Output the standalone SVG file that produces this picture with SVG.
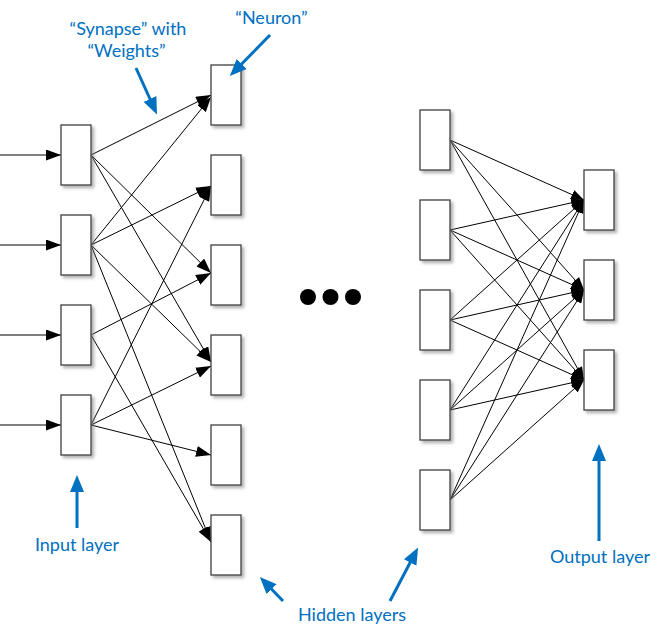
<svg xmlns="http://www.w3.org/2000/svg" width="662" height="639" viewBox="0 0 662 639">
  <style>
    .node rect { fill: #ffffff; stroke: #404040; stroke-width: 1.3; filter: url(#shadow); }
    .conn line { stroke: #000000; stroke-width: 1; fill: none; marker-end: url(#arrowBlack); }
    .conn2 line { stroke: #000000; stroke-width: 1; fill: none; marker-end: url(#arrowSmall); }
    .callout line { stroke: #0070C0; stroke-width: 3; fill: none; marker-end: url(#arrowBlue); }
    .label { font-family: Lato, "Open Sans", "Liberation Sans", sans-serif; font-size: 18px; fill: #0070C0; text-anchor: middle; }
    .dot { fill: #000000; }
  </style>
  <defs>
    <filter id="shadow" x="-30%" y="-30%" width="170%" height="170%">
      <feDropShadow dx="2.5" dy="2.5" stdDeviation="1.5" flood-color="#7f7f7f" flood-opacity="0.6"/>
    </filter>
    <marker id="arrowBlack" markerUnits="userSpaceOnUse" markerWidth="15" markerHeight="11" refX="15" refY="5.5" orient="auto">
      <path d="M0,0 L15,5.5 L0,11 z" fill="#000000"/>
    </marker>
    <marker id="arrowSmall" markerUnits="userSpaceOnUse" markerWidth="13" markerHeight="10" refX="13" refY="5" orient="auto">
      <path d="M0,0 L13,5 L0,10 z" fill="#000000"/>
    </marker>
    <marker id="arrowBlue" markerUnits="userSpaceOnUse" markerWidth="17" markerHeight="14" refX="11" refY="7" orient="auto">
      <path d="M0,0 L17,7 L0,14 z" fill="#0070C0"/>
    </marker>
  </defs>

  <!-- Connectors -->
  <g id="connectors">
    <g class="conn">
      <!-- inputs -->
      <line x1="0" y1="155" x2="61" y2="155"/>
      <line x1="0" y1="245" x2="61" y2="245"/>
      <line x1="0" y1="335" x2="61" y2="335"/>
      <line x1="0" y1="425" x2="61" y2="425"/>
      <!-- input1 -->
      <line x1="91" y1="155" x2="211" y2="95"/>
      <line x1="91" y1="155" x2="211" y2="273"/>
      <line x1="91" y1="155" x2="211" y2="362"/>
      <!-- input2 -->
      <line x1="91" y1="245" x2="211" y2="97"/>
      <line x1="91" y1="245" x2="211" y2="186"/>
      <line x1="91" y1="245" x2="211" y2="362"/>
      <line x1="91" y1="245" x2="211" y2="542"/>
      <!-- input3 -->
      <line x1="91" y1="335" x2="211" y2="273"/>
      <line x1="91" y1="335" x2="211" y2="542"/>
      <!-- input4 -->
      <line x1="91" y1="425" x2="211" y2="186"/>
      <line x1="91" y1="425" x2="211" y2="366"/>
      <line x1="91" y1="425" x2="211" y2="455"/>
    </g>
    <g class="conn2">
      <line x1="450" y1="140" x2="584" y2="200"/>
      <line x1="450" y1="140" x2="584" y2="290"/>
      <line x1="450" y1="140" x2="584" y2="380"/>
      <line x1="450" y1="230" x2="584" y2="200"/>
      <line x1="450" y1="230" x2="584" y2="290"/>
      <line x1="450" y1="230" x2="584" y2="380"/>
      <line x1="450" y1="320" x2="584" y2="200"/>
      <line x1="450" y1="320" x2="584" y2="290"/>
      <line x1="450" y1="320" x2="584" y2="380"/>
      <line x1="450" y1="410" x2="584" y2="200"/>
      <line x1="450" y1="410" x2="584" y2="290"/>
      <line x1="450" y1="410" x2="584" y2="380"/>
      <line x1="450" y1="500" x2="584" y2="200"/>
      <line x1="450" y1="500" x2="584" y2="290"/>
      <line x1="450" y1="500" x2="584" y2="380"/>
    </g>
  </g>

  <!-- Input layer -->
  <g id="in1" class="node"><rect x="61" y="125" width="30" height="60"/></g>
  <g id="in2" class="node"><rect x="61" y="215" width="30" height="60"/></g>
  <g id="in3" class="node"><rect x="61" y="305" width="30" height="60"/></g>
  <g id="in4" class="node"><rect x="61" y="395" width="30" height="60"/></g>

  <!-- Hidden layer 1 -->
  <g id="h1n1" class="node"><rect x="211" y="65" width="30" height="60"/></g>
  <g id="h1n2" class="node"><rect x="211" y="155" width="30" height="60"/></g>
  <g id="h1n3" class="node"><rect x="211" y="245" width="30" height="60"/></g>
  <g id="h1n4" class="node"><rect x="211" y="335" width="30" height="60"/></g>
  <g id="h1n5" class="node"><rect x="211" y="425" width="30" height="60"/></g>
  <g id="h1n6" class="node"><rect x="211" y="515" width="30" height="60"/></g>

  <!-- Last hidden layer -->
  <g id="h2n1" class="node"><rect x="420" y="110" width="30" height="60"/></g>
  <g id="h2n2" class="node"><rect x="420" y="200" width="30" height="60"/></g>
  <g id="h2n3" class="node"><rect x="420" y="290" width="30" height="60"/></g>
  <g id="h2n4" class="node"><rect x="420" y="380" width="30" height="60"/></g>
  <g id="h2n5" class="node"><rect x="420" y="470" width="30" height="60"/></g>

  <!-- Output layer -->
  <g id="out1" class="node"><rect x="584" y="170" width="30" height="60"/></g>
  <g id="out2" class="node"><rect x="584" y="260" width="30" height="60"/></g>
  <g id="out3" class="node"><rect x="584" y="350" width="30" height="60"/></g>

  <!-- Ellipsis -->
  <g id="ellipsis">
    <circle class="dot" cx="308" cy="297" r="8"/>
    <circle class="dot" cx="330.5" cy="297" r="8"/>
    <circle class="dot" cx="353" cy="297" r="8"/>
  </g>

  <!-- Callout arrows -->
  <g id="callouts" class="callout">
    <line x1="136" y1="68" x2="154.5" y2="109"/>
    <line x1="270" y1="35" x2="234" y2="71.8"/>
    <line x1="77" y1="528" x2="77" y2="481"/>
    <line x1="283" y1="601" x2="264" y2="581.3"/>
    <line x1="390" y1="601" x2="415.3" y2="552.8"/>
    <line x1="599" y1="541" x2="599" y2="450"/>
  </g>

  <!-- Labels -->
  <g id="labels">
    <text class="label" x="128" y="35">“Synapse” with</text>
    <text class="label" x="126.5" y="57">“Weights”</text>
    <text class="label" x="271.5" y="24">“Neuron”</text>
    <text class="label" x="77" y="551">Input layer</text>
    <text class="label" x="352" y="621">Hidden layers</text>
    <text class="label" x="600" y="563">Output layer</text>
  </g>
</svg>
